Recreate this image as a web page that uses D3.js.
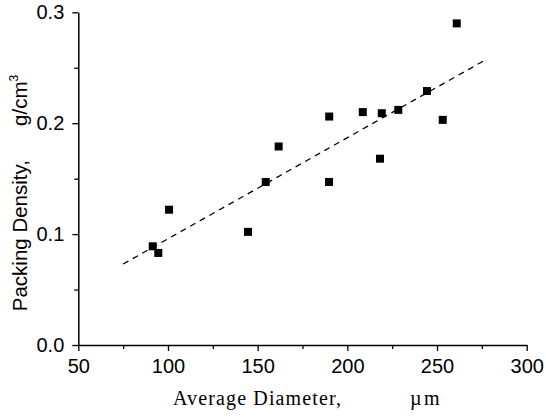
<!DOCTYPE html>
<html>
<head>
<meta charset="utf-8">
<script src="https://cdn.jsdelivr.net/npm/d3@7"></script>
<style>
  body { margin: 0; background: #fff; }
  svg text { fill: #000; }
</style>
</head>
<body>
<div id="chart"></div>
<script>
// Datos
const diameters = [91.5, 94.6, 100.6, 144.6, 154.5, 161.7, 189.8, 189.9, 208.6, 218.2, 219.2, 228.4, 244.4, 253.2, 261.0];
const densities = [0.089, 0.083, 0.122, 0.102, 0.147, 0.179, 0.147, 0.206, 0.210, 0.168, 0.209, 0.212, 0.229, 0.203, 0.290];
// Recta de ajuste (extremos)
const fitX = [75, 278];
const fitY = [0.073, 0.258];
const xTicks = [50, 100, 150, 200, 250, 300];
const yTicks = [0.0, 0.1, 0.2, 0.3];

const width = 546, height = 419;
const margin = {top: 12.3, right: 19.3, bottom: 74, left: 78.3};
const w = width - margin.left - margin.right,
      h = height - margin.top - margin.bottom;

const svg = d3.select('#chart').append('svg')
    .attr('width', width).attr('height', height);

const g = svg.append('g')
    .attr('transform', 'translate(' + margin.left + ',' + margin.top + ')');

const x = d3.scaleLinear().domain([50, 300]).range([0, w]);
const y = d3.scaleLinear().domain([0, 0.3]).range([h, 0]);

// Ticks menores
g.append('g')
    .attr('transform', 'translate(0,' + h + ')')
    .call(d3.axisBottom(x).tickValues(d3.range(75, 300, 50)).tickSize(4).tickFormat(''))
    .call(a => a.select('.domain').remove())
    .selectAll('line').attr('stroke-width', 1.3);
g.append('g')
    .call(d3.axisLeft(y).tickValues([0.05, 0.15, 0.25]).tickSize(4).tickFormat(''))
    .call(a => a.select('.domain').remove())
    .selectAll('line').attr('stroke-width', 1.3);

// Ejes principales
const xAxis = g.append('g')
    .attr('transform', 'translate(0,' + h + ')')
    .call(d3.axisBottom(x).tickValues(xTicks).tickSize(6).tickSizeOuter(0).tickPadding(8).tickFormat(d3.format('d')));
const yAxis = g.append('g')
    .call(d3.axisLeft(y).tickValues(yTicks).tickSize(6).tickSizeOuter(0).tickPadding(8).tickFormat(d3.format('.1f')));

[xAxis, yAxis].forEach(a => {
  a.select('.domain').attr('stroke-width', 1.5);
  a.selectAll('line').attr('stroke-width', 1.3);
  a.selectAll('text')
    .style('font-family', '"Liberation Sans", Arial, sans-serif')
    .style('font-size', '20px');
});

// Recta de ajuste
g.append('line')
    .attr('x1', x(fitX[0])).attr('y1', y(fitY[0]))
    .attr('x2', x(fitX[1])).attr('y2', y(fitY[1]))
    .attr('stroke', '#000').attr('stroke-width', 1.3)
    .attr('stroke-dasharray', '6,5');

// Puntos
const s = 8;
g.append('g').selectAll('rect')
    .data(diameters.map((d, i) => [d, densities[i]]))
    .enter().append('rect')
    .attr('x', d => x(d[0]) - s / 2)
    .attr('y', d => y(d[1]) - s / 2)
    .attr('width', s).attr('height', s)
    .attr('fill', '#000');

// Títulos de ejes
const xt = svg.append('text')
    .attr('y', 405)
    .style('font-family', '"Liberation Serif", "DejaVu Serif", serif')
    .style('font-size', '20px');
xt.append('tspan').attr('x', 173).attr('textLength', 168).attr('lengthAdjust', 'spacing')
    .text('Average Diameter,');
xt.append('tspan').attr('x', 410).text('\u00b5');
xt.append('tspan').attr('x', 424).text('m');

const yt = svg.append('text')
    .attr('transform', 'translate(27,193) rotate(-90)')
    .attr('text-anchor', 'middle')
    .style('font-family', '"Liberation Sans", Arial, sans-serif')
    .style('font-size', '20.5px');
yt.append('tspan').text('Packing Density,\u00a0\u00a0\u00a0\u00a0\u00a0\u00a0g/cm');
yt.append('tspan').attr('dy', -9).style('font-size', '12px').text('3');
</script>
</body>
</html>
